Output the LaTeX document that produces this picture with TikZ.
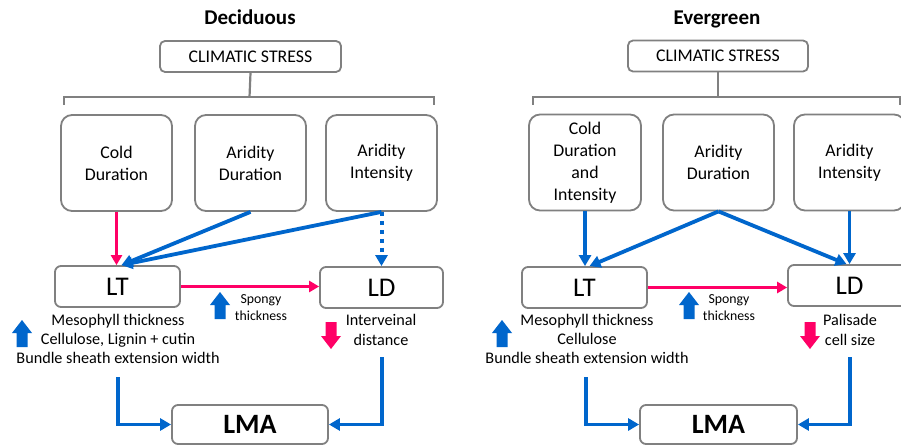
\documentclass[tikz,border=0pt]{standalone}
\usepackage{fontspec}
\setmainfont{Carlito}
\usetikzlibrary{arrows.meta}
\definecolor{bgray}{RGB}{128,128,128}
\definecolor{myblue}{RGB}{0,102,204}
\definecolor{mypink}{RGB}{255,0,102}
\tikzset{
  upblock/.pic={\fill[myblue] (-5.5,0) -- (-5.5,-14) -- (-10,-14) -- (0,-27) -- (10,-14) -- (5.5,-14) -- (5.5,0) -- cycle;},
  downblock/.pic={\fill[mypink] (-5.5,0) -- (-5.5,14) -- (-10,14) -- (0,27) -- (10,14) -- (5.5,14) -- (5.5,0) -- cycle;}
}
\begin{document}
\begin{tikzpicture}[x=1pt,y=-1pt,
  gbox/.style={draw=bgray, line width=1.8pt, fill=white, align=center, inner sep=0pt},
  bigbox/.style={gbox, rounded corners=11pt, minimum width=111pt, minimum height=96pt, font=\fontsize{17.8}{22}\selectfont},
  smallbox/.style={gbox, rounded corners=6pt, minimum height=41pt, font=\fontsize{27}{30}\selectfont},
  csbox/.style={gbox, rounded corners=5pt, minimum height=31pt, minimum width=181pt, font=\fontsize{17.8}{20}\selectfont},
  lmabox/.style={gbox, rounded corners=6pt, minimum height=39pt, minimum width=156pt, font=\fontsize{28}{30}\selectfont\bfseries},
  titletext/.style={anchor=base, inner sep=0pt, font=\fontsize{21}{24}\selectfont\bfseries},
  desctext/.style={align=center, inner sep=0pt, font=\fontsize{16.2}{19}\selectfont},
  sptext/.style={align=center, inner sep=0pt, font=\fontsize{13.8}{17}\selectfont},
  bracketline/.style={draw=bgray, line width=2.2pt},
  barrow/.style={draw=myblue, line width=3.8pt, -{Triangle[length=11pt,width=12pt]}},
  bdot/.style={draw=myblue, line width=4pt, dash pattern=on 4pt off 5pt, -{Triangle[length=11pt,width=12pt]}},
  parrow/.style={draw=mypink, line width=3.2pt, -{Triangle[length=10pt,width=11pt]}},
  parrowthin/.style={draw=mypink, line width=2.5pt, -{Triangle[length=10pt,width=11pt]}}
]
\useasboundingbox (0,0) rectangle (901,446);
\clip (0,0) rectangle (901,446);
\fill[white] (0,0) rectangle (901,446);

% ===================== Deciduous =====================
\node[titletext] (t1) at (250,25) {Deciduous};
\node[csbox] (cs1) at (250.5,56.5) {CLIMATIC STRESS};
\coordinate (bl1) at (64,105);
\coordinate (br1) at (434,105);
\coordinate (bm1) at (249.5,97);
\draw[bracketline] (bl1) -- (64,97) -- (434,97) -- (br1);
\draw[bracketline] (cs1.south) -- (bm1);

\node[bigbox] (cd1) at (116.5,163) {Cold\\Duration};
\node[bigbox] (ad1) at (250.5,163) {Aridity\\Duration};
\node[bigbox] (ai1) at (381.5,163) {Aridity\\Intensity};

\node[smallbox, minimum width=125pt] (lt1) at (117.5,286.5) {LT};
\node[smallbox, minimum width=123pt] (ld1) at (381.5,287.5) {LD};
\node[lmabox] (lma1) at (250,424.5) {LMA};

\node[desctext] (m1) at (118,339) {Mesophyll thickness\\Cellulose, Lignin + cutin\\Bundle sheath extension width};
\node[sptext] (sp1) at (261,307.5) {Spongy\\thickness};
\node[desctext, font=\fontsize{16.2}{20}\selectfont] (iv1) at (381,330) {Interveinal\\distance};
\pic at (22,347) {upblock};
\pic at (220,319) {upblock};
\pic at (331,322) {downblock};

\draw[parrow] (cd1.south) -- (cd1.south |- lt1.north);
\draw[barrow] (ad1.south) -- ([xshift=4pt]lt1.north);
\draw[barrow] (ai1.south) -- ([xshift=4pt]lt1.north);
\draw[bdot] (ai1.south) -- (ld1.north);
\draw[parrowthin] (lt1.east) -- (lt1.east -| ld1.west);
\coordinate (s1) at (118,377);
\coordinate (s2) at (382,357);
\draw[barrow] (s1) |- (lma1.west);
\draw[barrow] (s2) |- (lma1.east);

% ===================== Evergreen =====================
\node[titletext] (t2) at (717,25) {Evergreen};
\node[csbox, minimum width=180pt] (cs2) at (718,56) {CLIMATIC STRESS};
\coordinate (bl2) at (533,105);
\coordinate (br2) at (900,105);
\coordinate (bm2) at (718,97);
\draw[bracketline] (bl2) -- (533,97) -- (900,97) -- (br2);
\draw[bracketline] (cs2.south) -- (bm2);

\node[bigbox, minimum width=112pt] (cd2) at (585,162.5) {Cold\\Duration\\and\\Intensity};
\node[bigbox] (ad2) at (718.5,162.5) {Aridity\\Duration};
\node[bigbox] (ai2) at (849.5,162.5) {Aridity\\Intensity};

\node[smallbox, minimum width=125pt] (lt2) at (584.5,287.5) {LT};
\node[smallbox, minimum width=123pt] (ld2) at (849.5,285.5) {LD};
\node[lmabox, minimum width=157pt] (lma2) at (718.5,424.5) {LMA};

\node[desctext] (m2) at (587,339) {Mesophyll thickness\\Cellulose\\Bundle sheath extension width};
\node[sptext] (sp2) at (729,307.5) {Spongy\\thickness};
\node[desctext, font=\fontsize{16.2}{20}\selectfont] (ps2) at (850,330) {Palisade\\cell size};
\pic at (502,347) {upblock};
\pic at (689,319) {upblock};
\pic at (810,322) {downblock};

\draw[barrow] (cd2.south) -- (cd2.south |- lt2.north);
\draw[barrow] (ad2.south) -- ([xshift=5pt]lt2.north);
\draw[barrow] (ad2.south) -- ([xshift=-3pt]ld2.north);
\draw[barrow] (ai2.south) -- (ld2.north);
\draw[parrowthin] (lt2.east) -- (lt2.east -| ld2.west);
\coordinate (s3) at (586,377);
\coordinate (s4) at (850,357);
\draw[barrow] (s3) |- (lma2.west);
\draw[barrow] (s4) |- (lma2.east);
\end{tikzpicture}
\end{document}
